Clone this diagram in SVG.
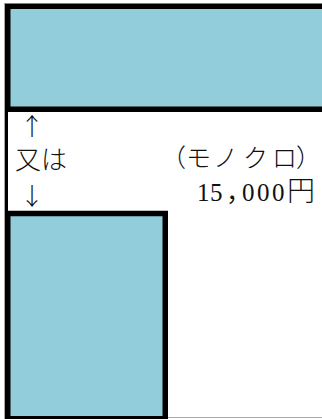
<svg xmlns="http://www.w3.org/2000/svg" width="322" height="419" viewBox="0 0 322 419">
  <style>
    .box { fill: #92CDDC; stroke: #000; stroke-width: 5.5; }
    .frame { stroke: #A8A8A8; stroke-width: 1; fill: none; }
    .t { font-family: "Liberation Serif", "Noto Sans CJK JP", serif; fill: #111; }
    .j { font-family: "Noto Sans CJK JP", sans-serif; font-weight: 300; fill: #111; }
  </style>
  <rect width="322" height="419" fill="#fff"/>
  <g id="frame">
    <line class="frame" x1="4.5" y1="3" x2="4.5" y2="419"/>
    <line class="frame" x1="4" y1="417.5" x2="322" y2="417.5"/>
  </g>
  <g id="top-panel">
    <rect class="box" x="7.75" y="6.25" width="330" height="103"/>
  </g>
  <line x1="6.5" y1="108" x2="6.5" y2="214" stroke="#000" stroke-width="3"/>
  <g id="bottom-panel">
    <rect class="box" x="7.75" y="213.5" width="157.5" height="205.25"/>
  </g>
  <g id="labels">
    <text class="j" x="20" y="135" font-size="24">↑</text>
    <text class="j" x="15" y="169" font-size="26">又は</text>
    <text class="j" x="20" y="205" font-size="24">↓</text>
    <text class="j" font-size="25" y="167" x="161 186 213 243 272 296">（モノクロ）</text>
    <text class="t" font-size="25" y="201" x="197 210 226 242 257 272">15，000<tspan class="j" font-size="28" x="287">円</tspan></text>
  </g>
</svg>
